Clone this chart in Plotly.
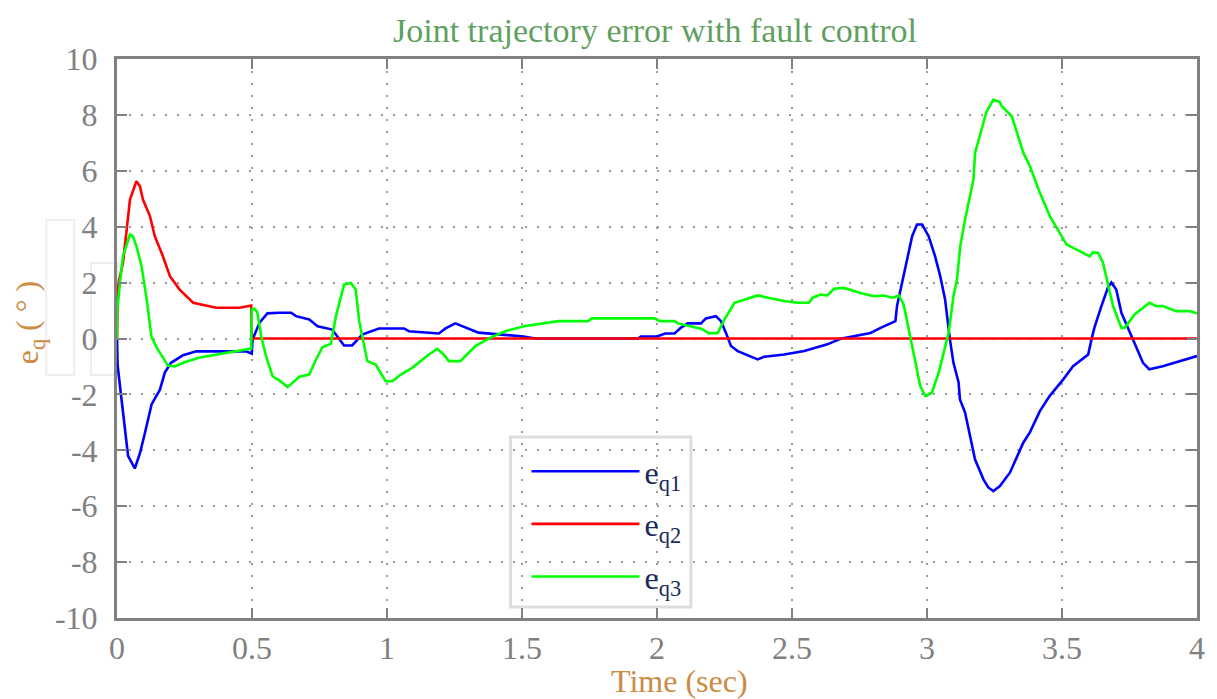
import plotly.graph_objects as go

# ---------------- data ----------------
t1 = [0, 0.002, 0.011, 0.021, 0.03, 0.041, 0.066, 0.085, 0.103, 0.128, 0.159, 0.177, 0.2, 0.245, 0.294,
      0.478, 0.499, 0.502, 0.528, 0.557, 0.601, 0.645, 0.663, 0.712, 0.743, 0.797, 0.841, 0.871, 0.908,
      0.970, 1.063, 1.081, 1.192, 1.217, 1.253, 1.277, 1.339, 1.425, 1.506, 1.549, 1.93, 1.94, 2.0, 2.03,
      2.065, 2.089, 2.114, 2.163, 2.181, 2.218, 2.237, 2.255, 2.274, 2.299, 2.348, 2.373, 2.397, 2.471,
      2.545, 2.594, 2.631, 2.68, 2.73, 2.791, 2.828, 2.864, 2.883, 2.889, 2.908, 2.938, 2.945, 2.963,
      2.982, 3.006, 3.03, 3.049, 3.067, 3.085, 3.098, 3.117, 3.122, 3.141, 3.178, 3.209, 3.227, 3.246,
      3.27, 3.307, 3.357, 3.381, 3.418, 3.454, 3.504, 3.541, 3.597, 3.609, 3.62, 3.646, 3.67, 3.683,
      3.701, 3.72, 3.738, 3.768, 3.8, 3.823, 3.873, 3.96, 4.0]
eq1 = [0, -0.93, -1.7, -2.5, -3.4, -4.2, -4.65, -4.1, -3.4, -2.36, -1.83, -1.22, -0.87, -0.6, -0.46,
       -0.46, -0.54, -0.04, 0.57, 0.9, 0.92, 0.92, 0.8, 0.68, 0.44, 0.32, -0.25, -0.25, 0.14,
       0.36, 0.36, 0.26, 0.18, 0.36, 0.54, 0.44, 0.21, 0.14, 0.07, 0, 0, 0.07, 0.07, 0.18,
       0.18, 0.39, 0.54, 0.54, 0.72, 0.8, 0.62, 0.21, -0.27, -0.45, -0.65, -0.75, -0.65, -0.57,
       -0.45, -0.3, -0.21, -0.01, 0.08, 0.2, 0.38, 0.53, 0.62, 1.16, 2.0, 3.3, 3.66, 4.08,
       4.08, 3.66, 2.94, 2.23, 1.4, -0.04, -0.87, -1.57, -2.18, -2.65, -4.33, -5.04, -5.33, -5.46,
       -5.28, -4.8, -3.72, -3.36, -2.6, -2.06, -1.47, -0.99, -0.57, -0.04, 0.39, 1.16, 1.82, 2.0,
       1.75, 0.92, 0.5, -0.15, -0.87, -1.1, -0.99, -0.75, -0.63]

t2 = [0, 0.002, 0.006, 0.022, 0.036, 0.048, 0.072, 0.085, 0.096, 0.122, 0.14, 0.17, 0.196, 0.232,
      0.282, 0.368, 0.454, 0.497, 0.499, 4.0]
eq2 = [0, 1.5, 2.0, 2.7, 3.9, 4.97, 5.63, 5.45, 4.97, 4.38, 3.66, 2.94, 2.23, 1.75,
       1.28, 1.1, 1.1, 1.18, 0, 0]

t3 = [0, 0.001, 0.011, 0.022, 0.048, 0.059, 0.072, 0.091, 0.11, 0.128, 0.151, 0.189, 0.214, 0.245,
      0.306, 0.368, 0.497, 0.499, 0.509, 0.52, 0.534, 0.552, 0.576, 0.601, 0.632, 0.675, 0.712, 0.737,
      0.761, 0.792, 0.811, 0.841, 0.866, 0.884, 0.897, 0.927, 0.958, 0.995, 1.02, 1.051, 1.093, 1.155,
      1.186, 1.21, 1.229, 1.272, 1.327, 1.389, 1.438, 1.506, 1.586, 1.635, 1.745, 1.758, 1.991, 2.01,
      2.065, 2.077, 2.163, 2.194, 2.225, 2.25, 2.287, 2.324, 2.373, 2.41, 2.471, 2.52, 2.563, 2.576,
      2.606, 2.631, 2.656, 2.692, 2.717, 2.754, 2.803, 2.84, 2.871, 2.896, 2.914, 2.938, 2.957, 2.975,
      2.994, 3.018, 3.043, 3.061, 3.08, 3.098, 3.111, 3.123, 3.141, 3.172, 3.178, 3.221, 3.246, 3.27,
      3.277, 3.314, 3.357, 3.381, 3.418, 3.455, 3.517, 3.554, 3.603, 3.615, 3.634, 3.652, 3.67, 3.689,
      3.72, 3.732, 3.769, 3.824, 3.849, 3.873, 3.923, 3.972, 4.0]
eq3 = [0, 1.0, 2.0, 2.94, 3.72, 3.66, 3.3, 2.58, 1.4, 0.04, -0.39, -0.97, -1.0, -0.87,
       -0.68, -0.57, -0.36, 1.04, 1.07, 0.93, 0.08, -0.63, -1.35, -1.5, -1.74, -1.37, -1.29, -0.75,
       -0.31, -0.19, 0.8, 1.93, 1.99, 1.75, 0.62, -0.81, -0.93, -1.53, -1.53, -1.29, -1.05, -0.57,
       -0.37, -0.57, -0.81, -0.81, -0.27, 0.06, 0.26, 0.44, 0.54, 0.62, 0.62, 0.72, 0.72, 0.62,
       0.62, 0.54, 0.35, 0.18, 0.2, 0.68, 1.28, 1.4, 1.54, 1.46, 1.34, 1.28, 1.28, 1.46,
       1.57, 1.54, 1.78, 1.81, 1.73, 1.63, 1.51, 1.54, 1.46, 1.54, 1.2, 0.08, -0.87, -1.7,
       -2.06, -1.94, -1.23, -0.51, 0.2, 1.51, 2.11, 3.3, 4.26, 5.69, 6.64, 8.13, 8.55, 8.46,
       8.31, 7.95, 6.64, 6.17, 5.21, 4.38, 3.36, 3.18, 2.94, 3.09, 3.06, 2.7, 1.99, 1.16,
       0.38, 0.38, 0.86, 1.28, 1.16, 1.16, 0.98, 0.98, 0.9]

x_ticks = [0, 0.5, 1, 1.5, 2, 2.5, 3, 3.5, 4]
x_ticktext = ["0", "0.5", "1", "1.5", "2", "2.5", "3", "3.5", "4"]
y_ticks = [-10, -8, -6, -4, -2, 0, 2, 4, 6, 8, 10]
y_ticktext = ["-10", "-8", "-6", "-4", "-2", "0", "2", "4", "6", "8", "10"]

names = ["e<sub>q1</sub>", "e<sub>q2</sub>", "e<sub>q3</sub>"]
colors = ["#0000ff", "#ff0000", "#00ff00"]

# ---------------- figure ----------------
OFF = 8                      # page body margin
PAGE_W, PAGE_H = 1217, 699
W, H = PAGE_W - OFF, PAGE_H - OFF
# plot area in page pixels: x 117..1201, y 59..618
L = 117 - OFF
T = 59 - OFF
R = W - (1201 - OFF)
B = H - (618 - OFF)
FONT = "Liberation Serif, Times New Roman, serif"

fig = go.Figure()
for tt, vv, nm, c in zip([t1, t2, t3], [eq1, eq2, eq3], names, colors):
    fig.add_trace(go.Scatter(x=tt, y=vv, mode="lines", name=nm, legendgroup=nm,
                             line=dict(color=c, width=2.6)))

axis_common = dict(showline=True, linecolor="#808080", linewidth=3, mirror="ticks",
                   ticks="inside", ticklen=10, tickwidth=2, tickcolor="#808080",
                   showgrid=True, gridcolor="#9a9a9a", gridwidth=2, griddash="2px,10px",
                   zeroline=False, tickfont=dict(family=FONT, size=32, color="#808080"))

fig.update_xaxes(range=[0, 4], tickvals=x_ticks, ticktext=x_ticktext, ticklabelstandoff=0,
                 **axis_common)
fig.update_yaxes(range=[-10, 10], tickvals=y_ticks, ticktext=y_ticktext, ticklabelstandoff=10,
                 **axis_common)


def px(x):
    # page pixel x -> paper fraction
    return (x - OFF - L) / (W - L - R)


def py(y):
    # page pixel y -> paper fraction
    return (H - B - (y - OFF)) / (H - T - B)


fig.update_layout(
    width=W, height=H,
    margin=dict(l=L, r=R, t=T, b=B),
    paper_bgcolor="white", plot_bgcolor="white",
    showlegend=True,
    legend=dict(x=px(528), y=py(444), xanchor="left", yanchor="top",
                bgcolor="rgba(0,0,0,0)", borderwidth=0,
                font=dict(family=FONT, size=32, color="#1b2a5c"),
                itemwidth=108, traceorder="grouped", tracegroupgap=8),
    title=dict(text="Joint trajectory error with fault control", xref="container",
               x=(655 - OFF) / W, xanchor="center",
               y=1 - (30 - OFF) / H, yanchor="middle",
               font=dict(family=FONT, size=34, color="#5f9f5f")),
    shapes=[
        dict(type="rect", xref="paper", yref="paper", x0=px(46), x1=px(74), y0=py(375), y1=py(220),
             line=dict(color="#eeeeee", width=2), layer="below"),
        dict(type="rect", xref="paper", yref="paper", x0=px(91), x1=px(118), y0=py(375), y1=py(263),
             line=dict(color="#eeeeee", width=2), layer="below"),
        # legend frame
        dict(type="rect", xref="paper", yref="paper", x0=px(512), x1=px(693), y0=py(607), y1=py(437),
             line=dict(color="#dddddd", width=3), fillcolor="white", layer="between"),
    ],
    annotations=[
        dict(text="Time (sec)", xref="paper", yref="paper", x=px(682), y=py(681),
             xanchor="center", yanchor="middle", showarrow=False,
             font=dict(family=FONT, size=32, color="#cc8a44")),
        dict(text="e<sub>q</sub> ( ° )", xref="paper", yref="paper", x=px(29), y=py(322),
             xanchor="center", yanchor="middle", showarrow=False, textangle=-90,
             font=dict(family=FONT, size=32, color="#cc8a44")),
    ],
)

fig.write_html("out.html")
